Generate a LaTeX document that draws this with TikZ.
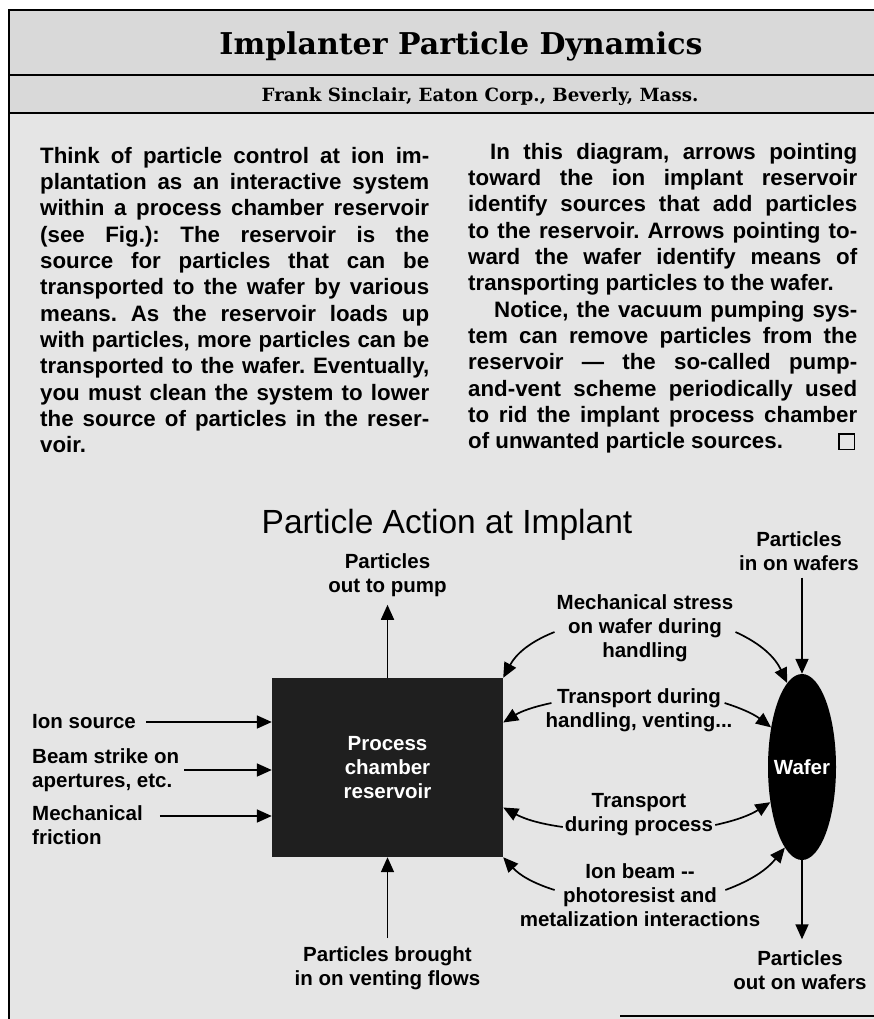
\documentclass[tikz,border=0pt]{standalone}
\usepackage{fontspec}
\setmainfont{Liberation Sans}
\newfontfamily\headfont{DejaVu Serif}
\usetikzlibrary{arrows.meta,shapes.geometric}
\frenchspacing

\newlength{\colw}
\setlength{\colw}{389pt}
\newcommand{\jline}[1]{\makebox[\colw][s]{#1}}

\tikzset{
  lbl/.style={font=\fontsize{20.5}{24}\selectfont\bfseries, align=center, inner sep=2pt},
  bodytext/.style={font=\fontsize{22.3}{26.3}\selectfont\bfseries, align=left, inner sep=0pt, anchor=north west},
  arr/.style={line width=1.7pt, -{Triangle[length=15pt,width=13pt]}},
  frameline/.style={line width=2.5pt}
}

\begin{document}
\begin{tikzpicture}[x=1pt,y=-1pt]
  \useasboundingbox (0,0) rectangle (874,1019);

  % paper and rules
  \fill[black!10] (9,10) rectangle (874,1019);
  \fill[black!15] (9,10) rectangle (874,113);
  \draw[frameline] (9,1019) -- (9,10) -- (874,10);
  \draw[frameline] (9,75) -- (874,75);
  \draw[frameline] (9,113) -- (874,113);
  \draw[frameline] (620,1016) -- (874,1016);

  % heading
  \node (head) at (461,46) {\headfont\bfseries\fontsize{30}{30}\selectfont Implanter Particle Dynamics};
  \node (byline) at (480,97) {\headfont\bfseries\fontsize{18.2}{18.2}\selectfont Frank Sinclair, Eaton Corp., Beverly, Mass.};

  % two columns of text
  \node[bodytext] (leftcol) at (40,147) {%
    \jline{Think of particle control at ion im-}\\
    \jline{plantation as an interactive system}\\
    \jline{within a process chamber reservoir}\\
    \jline{(see Fig.): The reservoir is the}\\
    \jline{source for particles that can be}\\
    \jline{transported to the wafer by various}\\
    \jline{means. As the reservoir loads up}\\
    \jline{with particles, more particles can be}\\
    \jline{transported to the wafer. Eventually,}\\
    \jline{you must clean the system to lower}\\
    \jline{the source of particles in the reser-}\\
    voir.};
  \node[bodytext] (rightcol) at (468,143) {%
    \jline{\hspace*{22pt}In this diagram, arrows pointing}\\
    \jline{toward the ion implant reservoir}\\
    \jline{identify sources that add particles}\\
    \jline{to the reservoir. Arrows pointing to-}\\
    \jline{ward the wafer identify means of}\\
    transporting particles to the wafer.\\
    \jline{\hspace*{26pt}Notice, the vacuum pumping sys-}\\
    \jline{tem can remove particles from the}\\
    \jline{reservoir --- the so-called pump-}\\
    \jline{and-vent scheme periodically used}\\
    \jline{to rid the implant process chamber}\\
    \jline{of unwanted particle sources.\hfill{\setlength{\fboxsep}{0pt}\setlength{\fboxrule}{1.5pt}\fbox{\rule{0pt}{14pt}\hspace{14pt}}}\hspace*{2pt}}};

  % figure
  \node[font=\fontsize{33.5}{33.5}\selectfont] (dtitle) at (447,525) {Particle Action at Implant};

  \node[lbl, fill=black!88, text=white, minimum width=231pt, minimum height=179pt, inner sep=0pt] (box) at (387.5,767.5) {Process\\chamber\\reservoir};
  \node[lbl, ellipse, fill=black, text=white, minimum width=68pt, minimum height=186pt, inner sep=0pt] (wafer) at (802,767) {\makebox[0pt]{Wafer}};

  \node[lbl] (pumpout) at (387.5,575) {Particles\\out to pump};
  \node[lbl] (ventin) at (387.5,968) {Particles brought\\in on venting flows};
  \node[lbl] (wafin) at (799,551) {Particles\\in on wafers};
  \node[lbl] (wafout) at (800,970) {Particles\\out on wafers};

  \node[lbl, anchor=west, align=left] (ionsrc) at (30,722) {Ion source};
  \node[lbl, anchor=west, align=left] (beam) at (30,770) {Beam strike on\\apertures, etc.};
  \node[lbl, anchor=west, align=left] (friction) at (30,825) {Mechanical\\friction};

  \node[lbl] (stress) at (645,628) {Mechanical stress\\on wafer during\\handling};
  \node[lbl] (thandle) at (639,710) {Transport during\\handling, venting...};
  \node[lbl] (tproc) at (639,815) {Transport\\during process};
  \node[lbl] (ibeam) at (640,895) {Ion beam -{}-\\photoresist and\\metalization interactions};

  % into and out of the reservoir
  \draw[arr] (box.north) -- ([yshift=-6pt]pumpout.south);
  \draw[arr] ([yshift=6pt]ventin.north) -- (box.south);
  \draw[arr] ([xshift=8pt]ionsrc.east) -- (ionsrc.east -| box.west);
  \draw[arr] ([xshift=3pt]beam.east) -- (beam.east -| box.west);
  \draw[arr] ([xshift=15pt,yshift=9pt]friction.east) coordinate (fr) -- (fr -| box.west);

  % wafer in and out
  \draw[arr] ([yshift=-5pt]wafin.south -| wafer.north) -- (wafer.north);
  \draw[arr, shorten >=9pt] (wafer.south) -- (wafer.south |- wafout.north);

  % transport both ways
  \draw[arr] ([yshift=-4pt]stress.west) to[bend right=20] (box.north east);
  \draw[arr] ([yshift=-4pt]stress.east) to[bend left=20] (wafer.100);
  \draw[arr] ([xshift=8pt,yshift=7pt]thandle.west) to[bend right=10] ([yshift=45pt]box.east);
  \draw[arr] ([xshift=-10pt,yshift=7pt]thandle.east) to[bend left=10] (wafer.128);
  \draw[arr] ([yshift=-12pt]tproc.west) to[bend left=10] ([yshift=-40pt]box.east);
  \draw[arr] ([yshift=-10pt]tproc.east) to[bend right=10] (wafer.228);
  \draw[arr] ([xshift=37pt,yshift=5pt]ibeam.west) to[bend left=15] (box.south east);
  \draw[arr] ([xshift=-37pt,yshift=5pt]ibeam.east) to[bend right=15] (wafer.258);
\end{tikzpicture}
\end{document}
